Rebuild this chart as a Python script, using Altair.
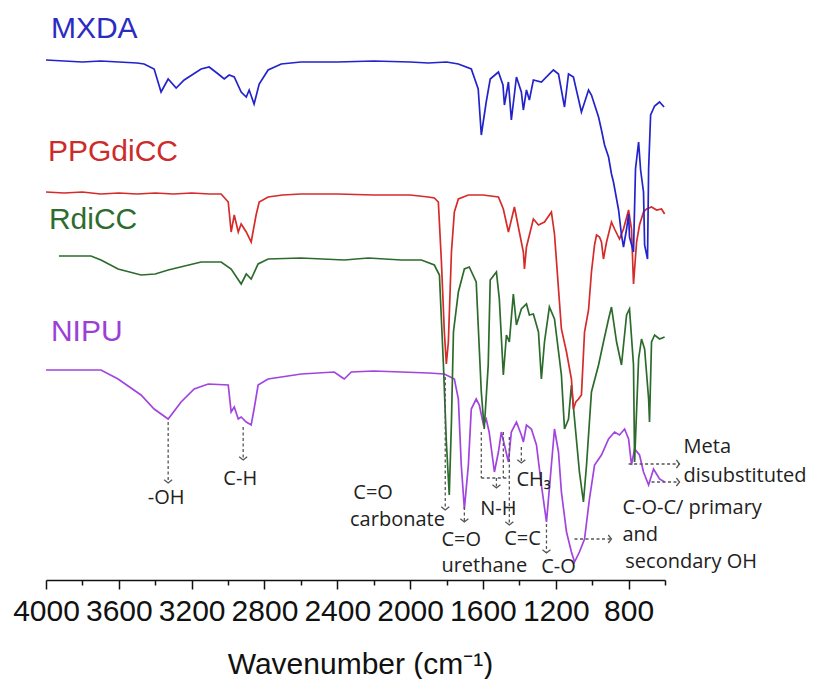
import altair as alt
import pandas as pd

# ---------------- spectra (wavenumber, stacked transmittance a.u.) ----------------
mxda_wn = [4000, 3900, 3800, 3700, 3600, 3500, 3461, 3406, 3368, 3329, 3285, 3241, 3148, 3104,
           3054, 3021, 2994, 2966, 2928, 2900, 2884, 2857, 2829, 2780, 2708, 2600, 2400, 2200,
           2000, 1900, 1800, 1735, 1664, 1626, 1609, 1582, 1560, 1515, 1490, 1482, 1460, 1444,
           1416, 1389, 1378, 1361, 1345, 1323, 1279, 1213, 1185, 1152, 1130, 1103, 1059, 1020,
           1004, 965, 949, 932, 910, 894, 883, 855, 839, 828, 811, 800, 795, 773, 762, 745, 734,
           718, 712, 696, 690, 679, 657, 630, 605]
mxda_t = [520, 519, 518, 519, 518, 517, 516, 511, 488, 501, 492, 500, 511, 513,
          506, 501, 505, 503, 488, 483, 490, 476, 496, 510, 516, 518, 518, 519,
          518, 517, 518, 516, 511, 491, 445, 478, 501, 508, 495, 475, 498, 460,
          503, 488, 470, 490, 480, 500, 498, 510, 506, 473, 506, 503, 468, 490,
          485, 463, 450, 435, 423, 406, 398, 370, 345, 333, 351, 366, 343, 328, 411, 438, 410,
          388, 335, 321, 411, 465, 474, 478, 473]

ppg_wn = [4000, 3900, 3800, 3700, 3600, 3500, 3400, 3300, 3200, 3100, 3038, 2999, 2983, 2966,
          2944, 2928, 2900, 2873, 2846, 2829, 2780, 2700, 2600, 2400, 2200, 2000, 1900, 1867,
          1845, 1828, 1812, 1801, 1790, 1773, 1757, 1735, 1680, 1600, 1515, 1488, 1460, 1427,
          1400, 1378, 1372, 1361, 1323, 1295, 1262, 1224, 1207, 1169, 1141, 1114, 1103, 1090,
          1075, 1059, 1042, 1020, 1004, 987, 976, 960, 949, 938, 921, 894, 877, 850, 828, 800,
          784, 773, 756, 740, 718, 701, 674, 646, 619, 602]
ppg_t = [388, 387, 388, 386, 387, 386, 387, 386, 387, 386, 386, 378, 348, 365,
         348, 356, 348, 338, 365, 378, 383, 385, 386, 386, 385, 385, 383, 382,
         378, 318, 248, 216, 238, 328, 368, 381, 385, 385, 383, 371, 348, 373,
         348, 328, 311, 333, 361, 355, 358, 368, 346, 251, 228, 201, 171, 178,
         181, 185, 248, 270, 308, 335, 345, 343, 338, 321, 338, 358, 351, 341, 351, 370,
         351, 296, 338, 355, 368, 371, 373, 370, 371, 366]

rdicc_wn = [3929, 3800, 3753, 3698, 3604, 3478, 3400, 3329, 3148, 3038, 2983, 2928, 2900, 2873,
            2835, 2780, 2600, 2362, 2230, 2048, 1938, 1867, 1839, 1817, 1801, 1785, 1773, 1762,
            1735, 1702, 1675, 1637, 1609, 1593, 1571, 1560, 1526, 1510, 1488, 1471, 1455, 1433,
            1416, 1389, 1361, 1345, 1323, 1295, 1279, 1262, 1235, 1207, 1169, 1152, 1130, 1114,
            1097, 1070, 1048, 1031, 1004, 965, 938, 910, 894, 866, 839, 811, 795, 773, 767, 745,
            729, 712, 690, 685, 674, 657, 630, 602]
rdicc_t = [324, 324, 324, 320, 311, 305, 306, 310, 318, 318, 311, 296, 306, 301,
           316, 321, 322, 320, 322, 320, 320, 315, 305, 215, 138, 85, 158, 248,
           288, 311, 313, 298, 188, 151, 215, 300, 308, 281, 205, 245, 238, 286,
           255, 271, 276, 265, 266, 248, 201, 238, 273, 261, 205, 151, 161, 195,
           161, 108, 78, 115, 188, 215, 238, 261, 273, 238, 215, 265, 271, 215, 118, 221,
           241, 231, 181, 158, 238, 245, 241, 243]

nipu_wn = [4000, 3800, 3698, 3604, 3478, 3406, 3329, 3258, 3186, 3109, 2999, 2983, 2966, 2944,
           2928, 2900, 2873, 2857, 2835, 2780, 2598, 2417, 2378, 2362, 2323, 2200, 2048, 1900,
           1812, 1757, 1735, 1719, 1702, 1680, 1664, 1637, 1620, 1598, 1582, 1566, 1537, 1515,
           1499, 1482, 1460, 1444, 1416, 1389, 1378, 1361, 1334, 1306, 1279, 1251, 1224, 1207,
           1185, 1169, 1141, 1114, 1097, 1070, 1042, 1015, 987, 949, 910, 877, 850, 822, 800,
           784, 767, 740, 718, 690, 663, 630, 602]
nipu_t = [210, 210, 210, 201, 185, 171, 161, 178, 191, 196, 195, 168, 173, 161,
          163, 158, 155, 171, 195, 201, 206, 208, 203, 201, 208, 209, 208, 207,
          206, 201, 181, 115, 71, 115, 171, 181, 175, 156, 161, 148, 108, 128,
          148, 135, 118, 148, 158, 145, 138, 155, 151, 135, 95, 58, 115, 151,
          128, 88, 48, 28, 18, 28, 41, 81, 115, 125, 141, 148, 145, 151, 141,
          115, 131, 125, 108, 95, 111, 101, 98]

series_names = ["NIPU", "RdiCC", "PPGdiCC", "MXDA"]
series_colors = ["#a144e0", "#2d6b2d", "#d62b2b", "#2323cc"]
label_colors = ["#9b3fd6", "#2e6b2e", "#cc2b2b", "#2b2bc4"]
series_label_wn = [3973, 3984, 3989, 3973]
series_label_t = [248, 360, 428, 551]

# ---------------- annotations ----------------
arrow_wn1 = [3329, 2917, 1807, 1702, 1609, 1488, 1609, 1526, 1455, 1389, 1251, 1097, 800, 674]
arrow_t1 = [158, 153, 203, 73, 148, 148, 102, 102, 143, 133, 56, 41, 116, 98]
arrow_wn2 = [3329, 2917, 1807, 1702, 1609, 1488, 1455, 1526, 1455, 1389, 1251, 894, 520, 520]
arrow_t2 = [97, 120, 70, 58, 102, 102, 102, 92, 55, 117, 27, 41, 116, 98]

head_down_wn = [3329, 2917, 1807, 1702, 1526, 1455, 1389, 1251]
head_down_t = [97, 120, 70, 58, 92, 55, 117, 27]
head_right_wn = [894, 520, 520]
head_right_t = [41, 116, 98]

center_labels = ["-OH", "C-H", "N-H", "C=C", "C-O"]
center_wn = [3340, 2933, 1515, 1383, 1185]
center_t = [82, 101, 71, 41, 13]

left_labels = ["C=O", "carbonate", "C=O", "urethane", "CH\u2083", "C-O-C/ primary", "and",
               "secondary OH"]
left_wn = [2312, 2330, 1828, 1828, 1416, 834, 834, 818]
left_t = [87, 60, 40, 14, 100, 72, 45, 18]

meta_labels = ["Meta", "disubstituted"]
meta_wn = [498, 498]
meta_t = [133, 104]

tick_values = list(range(4000, 599, -200))

# ---------------- chart ----------------
x_scale = alt.Scale(domain=[600, 4000], reverse=True, nice=False, zero=False)
y_scale = alt.Scale(domain=[0, 565], nice=False, zero=False)
x_axis = alt.Axis(
    values=tick_values, format="d",
    labelExpr="datum.value % 400 === 0 ? datum.label : ''",
    tickSize={"condition": {"test": "datum.value % 400 === 0", "value": 9}, "value": 5},
    labelFont="Liberation Sans", labelFontSize=30, labelColor="#111",
    labelPadding=7, labelOverlap=False, labelFlush=False,
    domainColor="#111", domainWidth=1.5, tickColor="#111", tickWidth=1.5,
    grid=False,
    title="Wavenumber (cm\u207b\u00b9)", titleFont="Liberation Sans", titleFontSize=30,
    titleFontWeight="normal", titleColor="#111",
    titleX=314, titleY=84, titleAlign="center", titleBaseline="middle",
)
X = lambda f: alt.X(f, scale=x_scale, axis=x_axis)
Y = lambda f: alt.Y(f, scale=y_scale, axis=None)

layers = []
for name, col, wn, t in zip(series_names, series_colors,
                            [nipu_wn, rdicc_wn, ppg_wn, mxda_wn],
                            [nipu_t, rdicc_t, ppg_t, mxda_t]):
    df = pd.DataFrame({"wn": wn, "t": t})
    layers.append(alt.Chart(df).mark_line(color=col, strokeWidth=1.7).encode(
        x=X("wn:Q"), y=Y("t:Q"), order="index:Q"
    ).transform_window(index="row_number()"))

for name, col, lw, lt in zip(series_names, label_colors, series_label_wn, series_label_t):
    df = pd.DataFrame({"wn": [lw], "t": [lt], "txt": [name]})
    layers.append(alt.Chart(df).mark_text(
        align="left", baseline="middle", font="Liberation Sans", fontSize=30, color=col
    ).encode(x=X("wn:Q"), y=Y("t:Q"), text="txt:N"))

arrows = pd.DataFrame({"wn": arrow_wn1, "t": arrow_t1, "wn2": arrow_wn2, "t2": arrow_t2})
layers.append(alt.Chart(arrows).mark_rule(
    color="#555", strokeWidth=1.3, strokeDash=[3, 2.5]
).encode(x=X("wn:Q"), y=Y("t:Q"), x2="wn2:Q", y2="t2:Q"))

hd = pd.DataFrame({"wn": head_down_wn, "t": head_down_t})
layers.append(alt.Chart(hd).mark_point(
    shape="M -1 -0.8 L 0 0 L 1 -0.8", size=64, filled=False, color="#555", strokeWidth=1.3, opacity=1
).encode(x=X("wn:Q"), y=Y("t:Q")))
hr = pd.DataFrame({"wn": head_right_wn, "t": head_right_t})
layers.append(alt.Chart(hr).mark_point(
    shape="M -0.8 -1 L 0 0 L -0.8 1", size=64, filled=False, color="#555", strokeWidth=1.3, opacity=1
).encode(x=X("wn:Q"), y=Y("t:Q")))

cl = pd.DataFrame({"wn": center_wn, "t": center_t, "txt": center_labels})
layers.append(alt.Chart(cl).mark_text(
    align="center", baseline="middle", font="Open Sans", fontSize=20, color="#222"
).encode(x=X("wn:Q"), y=Y("t:Q"), text="txt:N"))
ll = pd.DataFrame({"wn": left_wn, "t": left_t, "txt": left_labels})
layers.append(alt.Chart(ll).mark_text(
    align="left", baseline="middle", font="Open Sans", fontSize=20, color="#222"
).encode(x=X("wn:Q"), y=Y("t:Q"), text="txt:N"))
ml = pd.DataFrame({"wn": meta_wn, "t": meta_t, "txt": meta_labels})
layers.append(alt.Chart(ml).mark_text(
    align="left", baseline="middle", font="Open Sans", fontSize=20, color="#222"
).encode(x=X("wn:Q"), y=Y("t:Q"), text="txt:N"))

chart = alt.layer(*layers).properties(
    width=619, height=565,
    padding={"left": 4, "top": 5, "right": 0, "bottom": 0},
).configure_view(stroke=None)

chart.save("out.html", embed_options={"renderer": "svg", "actions": False})
